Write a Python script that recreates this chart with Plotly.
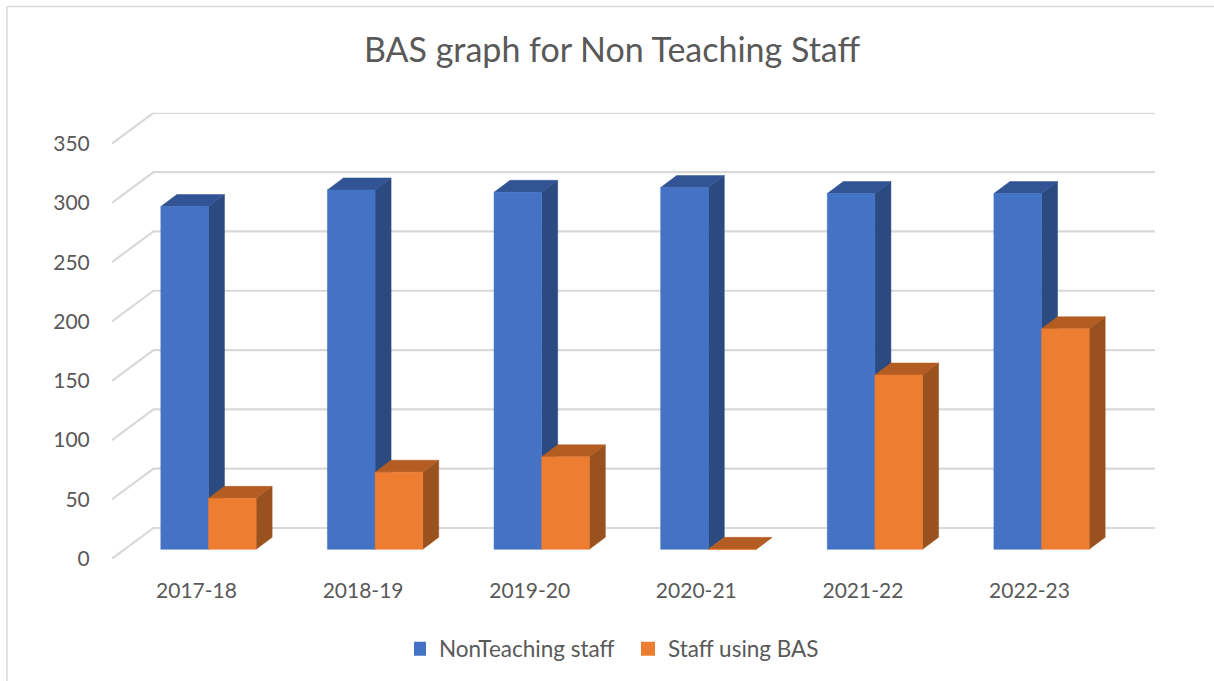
import plotly.graph_objects as go

categories = ["2017-18", "2018-19", "2019-20", "2020-21", "2021-22", "2022-23"]
nonteaching = [289, 303, 301, 305, 300, 300]
using_bas = [43, 65, 78, 0, 147, 186]
y_ticks = [0, 50, 100, 150, 200, 250, 300, 350]

W, H = 1214, 681
BAR_W = 0.286      # bar width, category units
BAR_DX = 0.096     # bar depth, category units
BAR_DY = 10.1      # bar depth, value units
BASE = 7.9         # bar floor above the front edge of the floor, value units
WALL_DX = 0.249    # wall depth, category units
WALL_DY = 25.9     # wall depth, value units
X0, X1 = -0.579, 5.681
Y1 = 376
LABEL_SHIFT = -0.072

BLUE = ("#4472C4", "#325494", "#2A4A80")
ORANGE = ("#ED7D31", "#B35D23", "#99511D")
GRID = "#D9D9D9"
TEXT = "#595959"
FONT = "Lato"


def faces(values, start):
    front, top, side = ([], []), ([], []), ([], [])
    for i, v in enumerate(values):
        a, b = i + start, i + start + BAR_W
        y0, y1 = BASE, BASE + v
        for store, pts in (
            (front, [(a, y0), (b, y0), (b, y1), (a, y1), (a, y0)]),
            (top, [(a, y1), (b, y1), (b + BAR_DX, y1 + BAR_DY), (a + BAR_DX, y1 + BAR_DY), (a, y1)]),
            (side, [(b, y0), (b + BAR_DX, y0 + BAR_DY), (b + BAR_DX, y1 + BAR_DY), (b, y1), (b, y0)]),
        ):
            store[0].extend([p[0] for p in pts] + [None])
            store[1].extend([p[1] for p in pts] + [None])
    return front, top, side


fig = go.Figure()

gx, gy = [], []
for v in y_ticks:
    gx += [X0, X0 + WALL_DX, X1, None]
    gy += [v, v + WALL_DY, v + WALL_DY, None]
fig.add_trace(go.Scatter(x=gx, y=gy, mode="lines", line=dict(color=GRID, width=2.2),
                         showlegend=False, hoverinfo="skip"))

for values, start, cols in ((nonteaching, -BAR_W, BLUE), (using_bas, 0, ORANGE)):
    front, top, side = faces(values, start)
    for pts, col in ((side, cols[2]), (top, cols[1]), (front, cols[0])):
        fig.add_trace(go.Scatter(x=pts[0], y=pts[1], mode="lines", fill="toself", fillcolor=col,
                                 line=dict(color=col, width=0.5), showlegend=False, hoverinfo="skip"))

for name, cols in (("NonTeaching staff", BLUE), ("Staff using BAS", ORANGE)):
    fig.add_trace(go.Scatter(x=[None], y=[None], mode="markers", name=name,
                             marker=dict(symbol="square", size=14, color=cols[0])))

fig.update_layout(
    width=W, height=H, autosize=False,
    margin=dict(l=0, r=0, t=0, b=0, autoexpand=False),
    paper_bgcolor="white", plot_bgcolor="white",
    font=dict(family=FONT, color=TEXT),
    title=dict(text="BAS graph for Non Teaching Staff", x=612 / W, xanchor="center",
               y=1 - 50 / H, yanchor="middle", font=dict(size=34, color=TEXT, family=FONT)),
    xaxis=dict(domain=[112 / W, 1155 / W], range=[X0, X1], showgrid=False, zeroline=False,
               showline=False, tickmode="array", tickvals=[i + LABEL_SHIFT for i in range(len(categories))],
               ticktext=categories, ticks="outside", ticklen=13, tickcolor="rgba(0,0,0,0)",
               tickfont=dict(size=21, color=TEXT)),
    yaxis=dict(domain=[1 - 558.7 / H, 1 - 112.7 / H], range=[0, Y1], showgrid=False, zeroline=False,
               showline=False, tickmode="array", tickvals=y_ticks, ticks="outside", ticklen=17,
               tickcolor="rgba(0,0,0,0)", tickfont=dict(size=21, color=TEXT)),
    legend=dict(orientation="h", x=414 / W, xanchor="left", y=1 - 649 / H, yanchor="middle",
                font=dict(size=22.5, color=TEXT), indentation=-15,
                entrywidthmode="pixels", entrywidth=199),
    shapes=[
        dict(type="line", xref="paper", yref="paper", x0=7 / W, x1=7 / W, y0=0, y1=1 - 6.5 / H,
             line=dict(color=GRID, width=1.5)),
        dict(type="line", xref="paper", yref="paper", x0=7 / W, x1=1, y0=1 - 6.5 / H, y1=1 - 6.5 / H,
             line=dict(color=GRID, width=1.5)),
    ],
)

fig.write_html("out.html", config=dict(displayModeBar=False),
               post_script="document.body.style.margin='0';")
